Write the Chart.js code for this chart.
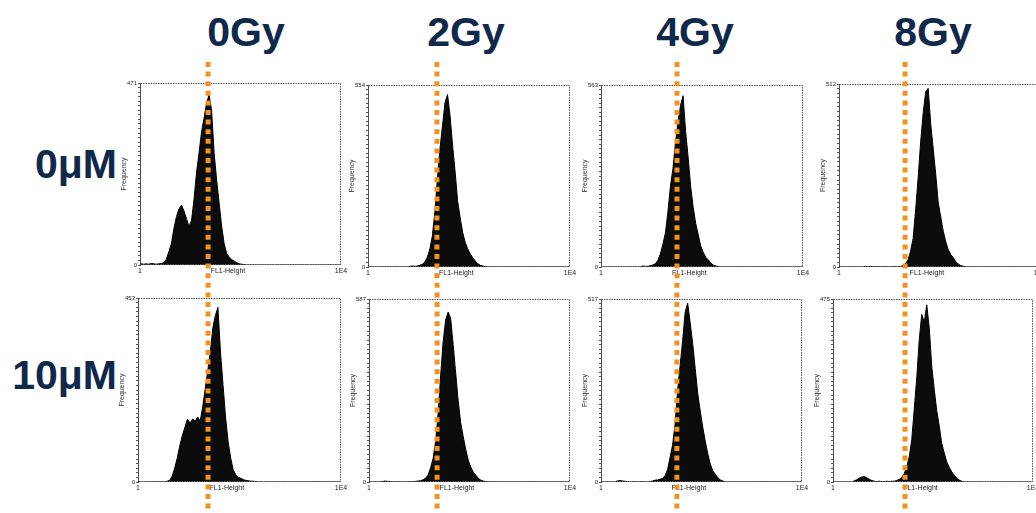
<!DOCTYPE html>
<html>
<head>
<meta charset="utf-8">
<script src="https://cdn.jsdelivr.net/npm/chart.js@4/dist/chart.umd.min.js"></script>
<style>
  html, body { margin:0; padding:0; background:#fff; width:1036px; height:513px; overflow:hidden; position:relative; }
  .lbl { position:absolute; font-family:"Liberation Sans", Arial, Helvetica, sans-serif; font-weight:bold; color:#10284a; font-size:41px; line-height:41px; white-space:nowrap; }
  .col { transform:translateX(-50%); }
  .row { text-align:right; }
  canvas { position:absolute; }
</style>
</head>
<body>
<script>
// ---------------- DATA ----------------
const doses = ["0Gy", "2Gy", "4Gy", "8Gy"];
const concentrations = ["0μM", "10μM"];
const xTickPositions = [0, 35, 80];          // FL1 channel bins (80 bins over 1..1E4)
const xTickLabels = ["1", "FL1-Height", "1E4"];
const yAxisTitle = "Frequency";
const BINS = 80;
const yMaxLabels = [471, 554, 563, 512, 453, 587, 517, 475];
// orange reference line position (FL1 channel bin) in each panel
const cutoffBins = [27.1, 27.3, 30.1, 26.3, 27.6, 27.1, 30.2, 28.8];

const h_0uM_0Gy = [3,2,3,2,4,3,2,3,4, 6,15,35,55,95,125,145,155,140,120, 100,115,170,240,290,345,380,420,440,400, 290,220,160,100,55,30,20,14,10,6, 3,2,1,
  0,0,0,0,0,0,0,0,0,0,0,0,0,0,0,0,0,0,0,0,0,0,0,0,0,0,0,0,0,0,0,0,0,0,0,0,0,0];
const h_0uM_2Gy = [0,0,0,0,0,0,0,0,0,0,0,0,0,0,0,0,
  2,3,2,3,5,8,15,30,55,95,170,270,360,430,500,525,460,370,290,200,150,105,75,55,40,28,18,10,5,3,1,
  0,0,0,0,0,0,0,0,0,0,0,0,0,0,0,0,0,0,0,0,0,0,0,0,0,0,0,0,0,0,0,0,0];
const h_0uM_4Gy = [0,0,0,0,0,0,0,0,0,0,0,0,0,0,0,0,
  3,2,2,4,6,10,20,40,70,105,170,250,305,385,450,500,530,420,340,250,185,135,100,65,45,30,22,12,6,3,1,
  0,0,0,0,0,0,0,0,0,0,0,0,0,0,0,0,0,0,0,0,0,0,0,0,0,0,0,0,0,0,0,0,0];
const h_0uM_8Gy = [0,0,0,0,0,0,0,0,0,0,
  2,1,2,1,0,1,0,0,1,0,0,1,0,0,1,
  4,10,20,45,80,160,250,350,430,490,500,400,330,260,180,140,100,70,48,35,26,15,8,4,2,
  0,0,0,0,0,0,0,0,0,0,0,0,0,0,0,0,0,0,0,0,0,0,0,0,0,0,0,0,0,0];
const h_10uM_0Gy = [0,0,0,0,0,0,0,0,0,0,0,
  2,4,15,35,60,90,115,135,155,145,155,150,160,150,185,230,275,320,380,410,430,320,240,160,100,60,30,18,12,9,6,4,3,2,2,1,
  0,0,0,0,0,0,0,0,0,0,0,0,0,0,0,0,0,0,0,0,0,0,0,0,0,0,0,0,0,0,0,0,0];
const h_10uM_2Gy = [0,0,0,0,0,
  2,3,2,1,0,0,1,0,0,0,0,1,0,
  2,3,4,7,12,22,45,75,130,220,340,450,520,545,525,440,350,260,190,145,105,70,48,32,22,12,6,3,1,
  0,0,0,0,0,0,0,0,0,0,0,0,0,0,0,0,0,0,0,0,0,0,0,0,0,0,0,0,0,0,0,0,0];
const h_10uM_4Gy = [0,0,0,0,0,0,
  3,4,3,2,1,0,0,1,0,0,1,0,0,1,
  3,5,6,8,10,18,35,70,105,165,260,330,400,480,505,450,390,320,250,200,155,115,80,50,32,22,12,6,3,
  0,0,0,0,0,0,0,0,0,0,0,0,0,0,0,0,0,0,0,0,0,0,0,0,0,0,0,0,0,0,0];
const h_10uM_8Gy = [0,0,0,0,0,0,0,0,
  3,6,10,13,14,11,7,4,2,1,2,1,1,2,1,2,2,
  4,7,12,22,40,65,110,190,270,370,435,415,460,400,300,240,185,145,100,75,52,38,26,18,10,5,2,
  0,0,0,0,0,0,0,0,0,0,0,0,0,0,0,0,0,0,0,0,0,0,0,0,0,0,0,0];

const histograms = [h_0uM_0Gy, h_0uM_2Gy, h_0uM_4Gy, h_0uM_8Gy,
                    h_10uM_0Gy, h_10uM_2Gy, h_10uM_4Gy, h_10uM_8Gy];

// ---------------- LAYOUT ----------------
const plotBoxes = [[140,83,341,265],[368,85,570,267],[601,85,803,267],[839,84,1040,267],
                   [138,298,341,482],[369,299,570,482],[601,299,802,482],[833,299,1033,482]];
const colCenters = [246, 466, 695, 933];
const rowLabelTops = [144, 355];
const rowLabelRight = 117;
const rowCanvas = [{top:55, h:230}, {top:285, h:228}];
const lineStartY = 62;
const AXW = 20, AXH = 11, PADL = 4, PADR = 12;
const ORANGE = '#EF9424';
const DASH = [5, 4.6];
const FONT = "'Liberation Sans', Arial, sans-serif";

doses.forEach((d, i) => {
  const el = document.createElement('div');
  el.className = 'lbl col';
  el.textContent = d;
  el.style.left = colCenters[i] + 'px';
  el.style.top = '12px';
  document.body.appendChild(el);
});
concentrations.forEach((c, i) => {
  const el = document.createElement('div');
  el.className = 'lbl row';
  el.textContent = c;
  el.style.right = (1036 - rowLabelRight) + 'px';
  el.style.top = rowLabelTops[i] + 'px';
  document.body.appendChild(el);
});

const framePlugin = {
  id: 'frame',
  afterDraw(chart) {
    const { ctx, chartArea: a } = chart;
    ctx.save();
    ctx.strokeStyle = '#555';
    ctx.lineWidth = 1;
    ctx.setLineDash([1.5, 1]);
    ctx.strokeRect(Math.round(a.left) + 0.5, Math.round(a.top) + 0.5,
                   Math.round(a.right - a.left) - 1, Math.round(a.bottom - a.top) - 1);
    ctx.restore();
  }
};
const markerPlugin = {
  id: 'marker',
  afterDraw(chart, args, opts) {
    const { ctx } = chart;
    const x = chart.scales.x.getPixelForValue(opts.value);
    ctx.save();
    ctx.strokeStyle = ORANGE;
    ctx.lineWidth = 5;
    ctx.lineCap = 'butt';
    ctx.setLineDash(DASH);
    ctx.lineDashOffset = opts.phase;
    ctx.beginPath();
    ctx.moveTo(x, opts.y0);
    ctx.lineTo(x, chart.height);
    ctx.stroke();
    ctx.restore();
  }
};

const period = DASH[0] + DASH[1];

histograms.forEach((hist, idx) => {
  const row = idx < 4 ? 0 : 1;
  const [l, t, r, b] = plotBoxes[idx];
  const rc = rowCanvas[row];
  const cl = l - AXW - PADL;
  const cw = (r - l) + AXW + PADL + PADR;
  const canvas = document.createElement('canvas');
  canvas.width = cw; canvas.height = rc.h;
  canvas.style.left = cl + 'px';
  canvas.style.top = rc.top + 'px';
  canvas.style.width = cw + 'px';
  canvas.style.height = rc.h + 'px';
  document.body.appendChild(canvas);

  const padTop = t - rc.top;
  const padBottom = rc.h - (b - rc.top) - AXH;
  const y0 = Math.max(0, lineStartY - rc.top);
  const phase = ((rc.top + y0 - lineStartY) % period + period) % period;
  const yMax = yMaxLabels[idx];

  const pts = [{ x: 0, y: hist[0] }];
  hist.forEach((v, i) => pts.push({ x: i + 0.5, y: v }));
  pts.push({ x: BINS, y: hist[hist.length - 1] });

  new Chart(canvas, {
    type: 'line',
    data: { datasets: [{
      data: pts, fill: 'origin',
      backgroundColor: '#0c0c0c', borderColor: '#000', borderWidth: 1,
      pointRadius: 0, tension: 0
    }]},
    options: {
      responsive: false, animation: false, devicePixelRatio: 1,
      layout: { padding: { left: PADL, right: PADR, top: padTop, bottom: padBottom } },
      plugins: {
        legend: { display: false }, tooltip: { enabled: false },
        marker: { value: cutoffBins[idx], y0: y0, phase: phase }
      },
      scales: {
        x: {
          type: 'linear', min: 0, max: BINS,
          afterBuildTicks: s => { s.ticks = xTickPositions.map(v => ({ value: v })); },
          afterFit: s => { s.height = AXH; },
          grid: { display: false, drawTicks: false, tickLength: 0 }, border: { display: false },
          ticks: { autoSkip: false, maxRotation: 0, minRotation: 0, padding: 2,
                   font: { size: 7, family: FONT }, color: '#222',
                   callback: (v, i) => xTickLabels[i] }
        },
        y: {
          type: 'linear', min: 0, max: yMax,
          afterBuildTicks: s => {
            const n = 40, arr = [];
            for (let k = 0; k <= n; k++) arr.push({ value: yMax * k / n });
            s.ticks = arr;
          },
          afterFit: s => { s.width = AXW; },
          grid: { drawOnChartArea: false, drawTicks: true, tickLength: 2, color: '#555' },
          border: { display: true, color: '#444' },
          title: { display: true, text: yAxisTitle, font: { size: 7, family: FONT }, color: '#333', padding: 0 },
          ticks: { autoSkip: false, padding: 1, font: { size: 6, family: FONT }, color: '#222',
                   callback: (v, i, ticks) => (i === 0 || i === ticks.length - 1) ? String(Math.round(v)) : '' }
        }
      }
    },
    plugins: [framePlugin, markerPlugin]
  });
});
</script>
</body>
</html>
